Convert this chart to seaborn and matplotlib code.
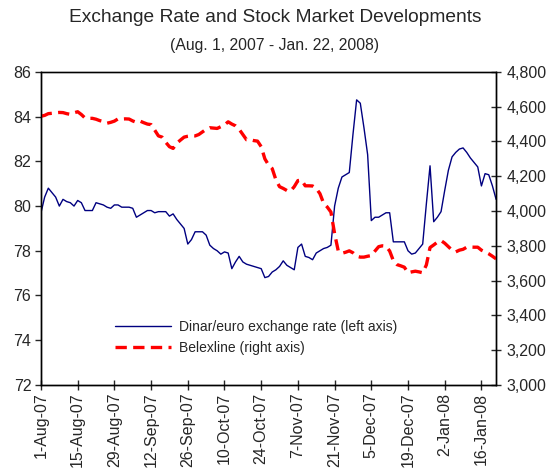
import numpy as np
import pandas as pd
import matplotlib
matplotlib.use("Agg")
import matplotlib.pyplot as plt
import seaborn as sns
from matplotlib.ticker import FuncFormatter

# business days, Aug 1 2007 - Jan 22 2008
dates = pd.bdate_range("2007-08-01", "2008-01-22")

tick_labels = ["1-Aug-07", "15-Aug-07", "29-Aug-07", "12-Sep-07", "26-Sep-07",
               "10-Oct-07", "24-Oct-07", "7-Nov-07", "21-Nov-07", "5-Dec-07",
               "19-Dec-07", "2-Jan-08", "16-Jan-08"]

# dinar per euro (left axis)
dinar_euro = [
    79.7, 80.4, 80.8, 80.6, 80.4, 80.0, 80.3, 80.2, 80.15, 80.0,
    80.25, 80.15, 79.8, 79.8, 79.8, 80.15, 80.1, 80.05, 79.95, 79.9,
    80.05, 80.05, 79.95, 79.95, 79.95, 79.9, 79.5, 79.6, 79.7, 79.8,
    79.8, 79.7, 79.75, 79.75, 79.75, 79.55, 79.65, 79.4, 79.2, 79.0,
    78.3, 78.5, 78.85, 78.85, 78.85, 78.7, 78.25, 78.1, 78.0, 77.85,
    77.95, 77.9, 77.2, 77.5, 77.75, 77.5, 77.4, 77.35, 77.3, 77.25,
    77.2, 76.8, 76.85, 77.05, 77.15, 77.3, 77.55, 77.35, 77.25, 77.15,
    78.15, 78.3, 77.75, 77.7, 77.6, 77.9, 78.0, 78.1, 78.15, 78.25,
    80.0, 80.8, 81.3, 81.4, 81.5, 83.2, 84.75, 84.6, 83.5, 82.3,
    79.35, 79.5, 79.5, 79.6, 79.7, 79.7, 78.4, 78.4, 78.4, 78.4,
    78.0, 77.85, 77.9, 78.1, 78.3, 80.1, 81.8, 79.3, 79.5, 79.75,
    80.7, 81.6, 82.2, 82.4, 82.55, 82.6, 82.4, 82.15, 81.95, 81.75,
    80.9, 81.45, 81.4, 80.9, 80.3,
]

# Belexline index (right axis)
belexline = [
    4545, 4550, 4560, 4562, 4565, 4567, 4566, 4560, 4556, 4565,
    4571, 4555, 4535, 4533, 4533, 4528, 4520, 4515, 4505, 4510,
    4517, 4530, 4529, 4530, 4529, 4518, 4510, 4517, 4508, 4500,
    4497, 4465, 4432, 4425, 4395, 4370, 4360, 4390, 4408, 4425,
    4430, 4433, 4432, 4440, 4455, 4470, 4479, 4477, 4475, 4485,
    4495, 4513, 4500, 4490, 4470, 4440, 4410, 4410, 4405, 4402,
    4370, 4300, 4265, 4244, 4180, 4140, 4130, 4118, 4115, 4140,
    4175, 4178, 4145, 4145, 4144, 4130, 4100, 4045, 4023, 3994,
    3870, 3770, 3757, 3763, 3771, 3760, 3740, 3735, 3735, 3740,
    3744, 3770, 3795, 3800, 3798, 3770, 3715, 3692, 3685, 3677,
    3645, 3650, 3654, 3650, 3645, 3690, 3790, 3805, 3821, 3830,
    3815, 3795, 3775, 3765, 3775, 3780, 3792, 3793, 3792, 3792,
    3775, 3765, 3754, 3740, 3725,
]

idx = np.arange(len(dates))

sns.set_style("white")
plt.rcParams['font.family'] = ['Liberation Sans', 'DejaVu Sans']

fig = plt.figure(figsize=(5.5, 4.7), dpi=100)
ax = fig.add_axes([0.0745, 0.181, 0.8275, 0.666])
ax2 = ax.twinx()

sns.lineplot(x=idx, y=dinar_euro, ax=ax, color="#000080", linewidth=1.0,
             label="Dinar/euro exchange rate (left axis)", legend=False)
sns.lineplot(x=idx, y=belexline, ax=ax2, color="#ff0000", linewidth=2.4,
             label="Belexline (right axis)", legend=False)
ax2.lines[0].set_dashes([3.4, 1.9])

ax.set_xlim(0, len(dates) - 1)
ax.set_ylim(72, 86)
ax2.set_ylim(3000, 4800)
ax.set_yticks(np.arange(72, 87, 2))
ax2.set_yticks(np.arange(3000, 4801, 200))
ax2.yaxis.set_major_formatter(FuncFormatter(lambda v, p: f"{int(v):,}"))

ax.set_xticks(idx[::10])
ax.set_xticklabels(tick_labels, rotation=90)

for a in (ax, ax2):
    for s in a.spines.values():
        s.set_color("black")
        s.set_linewidth(1.0)
ax.spines["top"].set_color("#404040")

ax.tick_params(axis="y", direction="out", length=4, width=1, labelsize=11.5, pad=3)
ax.tick_params(axis="x", direction="inout", length=7, width=1, labelsize=11.5, pad=2)
ax2.tick_params(axis="y", direction="inout", length=7, width=1, labelsize=11.5, pad=4)
ax.tick_params(left=True, bottom=True)
ax2.tick_params(right=True)
ax.set_xlabel("")
ax.set_ylabel("")
ax2.set_ylabel("")

h1, l1 = ax.get_legend_handles_labels()
h2, l2 = ax2.get_legend_handles_labels()
leg = ax2.legend(h1 + h2, l1 + l2, loc="center left", bbox_to_anchor=(0.163, 0.152),
                 frameon=False, fontsize=10, handlelength=4.0, handletextpad=0.6,
                 labelspacing=0.5, borderpad=0, borderaxespad=0)

fig.text(0.5, 0.962, "Exchange Rate and Stock Market Developments",
         ha="center", va="center", fontsize=13.8)
fig.text(0.5, 0.904, "(Aug. 1, 2007 - Jan. 22, 2008)",
         ha="center", va="center", fontsize=11.3)

fig.savefig("out.png", dpi=100)
